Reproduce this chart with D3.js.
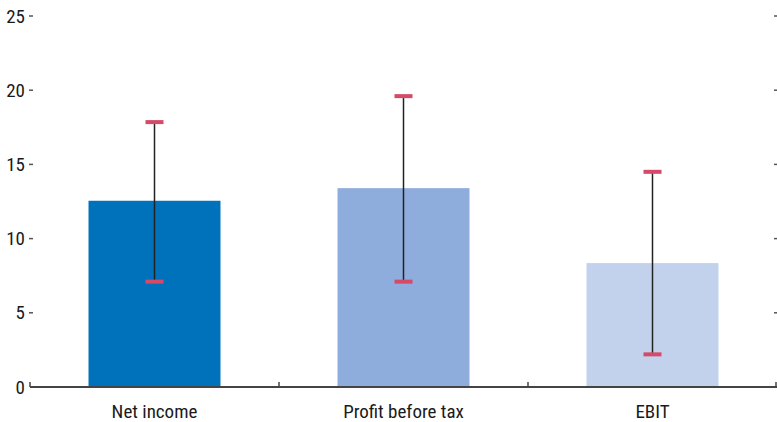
<!DOCTYPE html>
<html><head><meta charset="utf-8">
<script src="https://cdn.jsdelivr.net/npm/d3@7"></script>
<style>body{margin:0;background:#fff}svg{display:block}text{font-family:"Liberation Sans Narrow","Arial Narrow","Roboto Condensed",sans-serif;fill:#1a1a1a}</style>
</head><body><svg id="c" width="777" height="422"></svg>
<script>
const categories = ["Net income", "Profit before tax", "EBIT"];
const values = [12.55, 13.4, 8.35];
const lows = [7.1, 7.1, 2.2];
const highs = [17.85, 19.6, 14.5];
const colors = ["#0072bc", "#8eacdc", "#c2d2ec"];
const yTicks = [0, 5, 10, 15, 20, 25];

(function () {
const svg = d3.select("#c");
const mLeft = 30, mRight = 777, mTop = 16, mBottom = 387;
const x = d3.scaleBand().domain(categories).range([mLeft, mRight]).paddingInner(0).paddingOuter(0);
const y = d3.scaleLinear().domain([0, 25]).range([mBottom, mTop]);
const bw = x.bandwidth() * 0.53;

svg.selectAll("rect.bar").data(categories).join("rect")
  .attr("class", "bar")
  .attr("x", d => x(d) + (x.bandwidth() - bw) / 2)
  .attr("width", bw)
  .attr("y", (d, i) => y(values[i]))
  .attr("height", (d, i) => mBottom - y(values[i]))
  .attr("fill", (d, i) => colors[i]);

const yl = svg.append("g");
yTicks.forEach(t => {
  yl.append("text").attr("x", 25).attr("y", y(t)).attr("dy", "0.35em")
    .attr("text-anchor", "end").attr("font-size", 19).text(t);
  if (t > 0) {
    yl.append("line").attr("x1", 29).attr("x2", 33).attr("y1", y(t)).attr("y2", y(t))
      .attr("stroke", "#555").attr("stroke-width", 1.5);
    yl.append("line").attr("x1", 774).attr("x2", 777).attr("y1", y(t)).attr("y2", y(t))
      .attr("stroke", "#555").attr("stroke-width", 1.5);
  }
});

svg.append("line").attr("x1", mLeft).attr("x2", mRight).attr("y1", mBottom).attr("y2", mBottom)
  .attr("stroke", "#444").attr("stroke-width", 2);
const bounds = [mLeft, ...categories.slice(1).map(c => x(c)), mRight - 1];
bounds.forEach(b => {
  svg.append("line").attr("x1", b).attr("x2", b).attr("y1", mBottom - 5).attr("y2", mBottom)
    .attr("stroke", "#444").attr("stroke-width", 1.5);
});
svg.selectAll("text.cat").data(categories).join("text")
  .attr("class", "cat")
  .attr("x", d => x(d) + x.bandwidth() / 2).attr("y", 411).attr("dy", "0.35em")
  .attr("text-anchor", "middle").attr("font-size", 19).text(d => d);

categories.forEach((c, i) => {
  const cx = x(c) + x.bandwidth() / 2;
  svg.append("line").attr("x1", cx).attr("x2", cx).attr("y1", y(highs[i])).attr("y2", y(lows[i]))
    .attr("stroke", "#222").attr("stroke-width", 1.5);
  [highs[i], lows[i]].forEach(v => {
    svg.append("rect").attr("x", cx - 9).attr("width", 18).attr("y", y(v) - 2).attr("height", 4)
      .attr("fill", "#d44a68");
  });
});
})();
</script></body></html>
